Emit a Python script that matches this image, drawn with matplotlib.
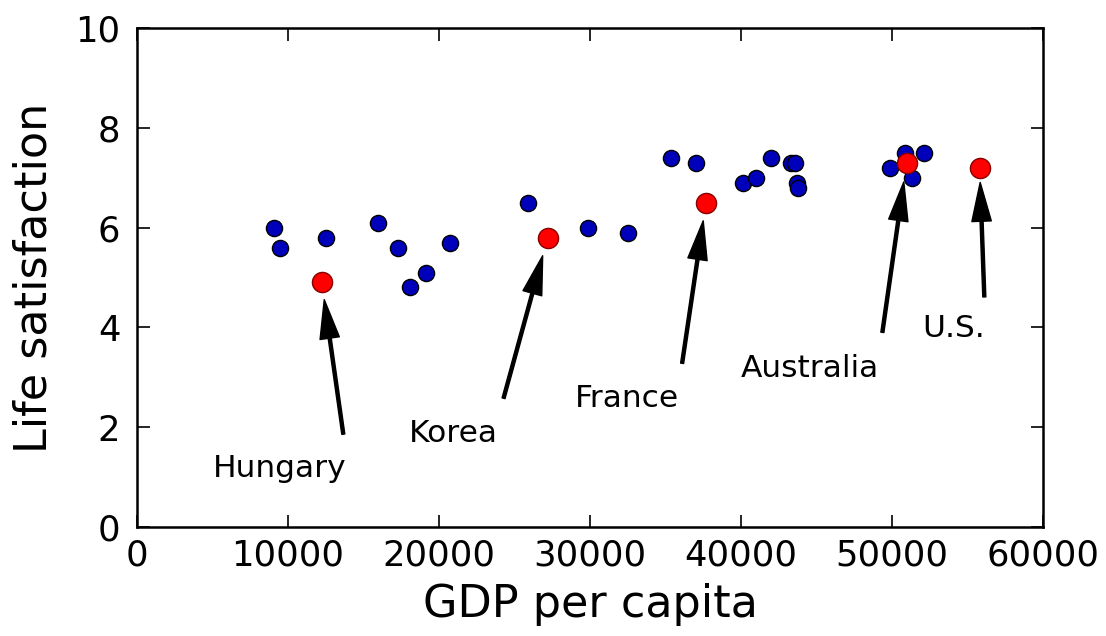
import matplotlib
matplotlib.use("Agg")
import matplotlib.pyplot as plt

# Data: GDP per capita (USD) and life satisfaction
countries = ["Russia", "Turkey", "Hungary", "Poland", "Slovak Republic", "Estonia",
             "Greece", "Portugal", "Slovenia", "Spain", "Korea", "Italy", "Japan",
             "Israel", "New Zealand", "France", "Belgium", "Germany", "Finland",
             "Canada", "Netherlands", "Austria", "United Kingdom", "Sweden",
             "Iceland", "Australia", "Ireland", "Denmark", "United States"]
gdp = [9054.914, 9437.372, 12239.894, 12495.334, 15991.736, 17288.083,
       18064.288, 19121.592, 20732.482, 25864.721, 27195.197, 29866.581,
       32485.545, 35343.336, 37044.891, 37675.006, 40106.632, 40996.511,
       41973.988, 43331.961, 43603.115, 43724.031, 43770.688, 49866.266,
       50854.583, 50961.865, 51350.744, 52114.165, 55805.204]
life_sat = [6.0, 5.6, 4.9, 5.8, 6.1, 5.6, 4.8, 5.1, 5.7, 6.5, 5.8, 6.0, 5.9,
            7.4, 7.3, 6.5, 6.9, 7.0, 7.4, 7.3, 7.3, 6.9, 6.8, 7.2, 7.5, 7.3,
            7.0, 7.5, 7.2]

highlight = ["Hungary", "Korea", "France", "Australia", "United States"]
highlight_labels = ["Hungary", "Korea", "France", "Australia", "U.S."]
text_x = [5000, 18000, 29000, 40000, 52000]
text_y = [1.0, 1.7, 2.4, 3.0, 3.8]

x_ticks = [0, 10000, 20000, 30000, 40000, 50000, 60000]
y_ticks = [0, 2, 4, 6, 8, 10]

fig = plt.figure(figsize=(11.06, 6.36), dpi=100)
W, H = 1106, 636
ax = fig.add_axes([137 / W, (H - 527) / H, (1043 - 137) / W, (527 - 28) / H])

ax.scatter(gdp, life_sat, s=135, c="#0000bb", edgecolors="black",
           linewidths=1.0, zorder=2)

for name, label, tx, ty in zip(highlight, highlight_labels, text_x, text_y):
    i = countries.index(name)
    ax.annotate(label, xy=(gdp[i], life_sat[i]), xytext=(tx, ty),
                fontsize=22.5,
                arrowprops=dict(facecolor="black", edgecolor="black",
                                width=2.2, shrink=0.1, headwidth=14,
                                headlength=28))
    ax.plot(gdp[i], life_sat[i], "o", color="red", markersize=14.5,
            markeredgecolor="#880000", markeredgewidth=1.0, zorder=3)

ax.set_xlim(0, 60000)
ax.set_ylim(0, 10)
ax.set_xticks(x_ticks)
ax.set_yticks(y_ticks)
ax.tick_params(direction="in", length=9, width=1.2, labelsize=25.5,
               top=True, right=True, pad=8)
ax.tick_params(axis="y", pad=12)
for sp in ax.spines.values():
    sp.set_linewidth(1.8)
ax.set_xlabel("GDP per capita", fontsize=32, labelpad=8)
ax.set_ylabel("Life satisfaction", fontsize=32, labelpad=14)

fig.savefig("out.png", dpi=100)
